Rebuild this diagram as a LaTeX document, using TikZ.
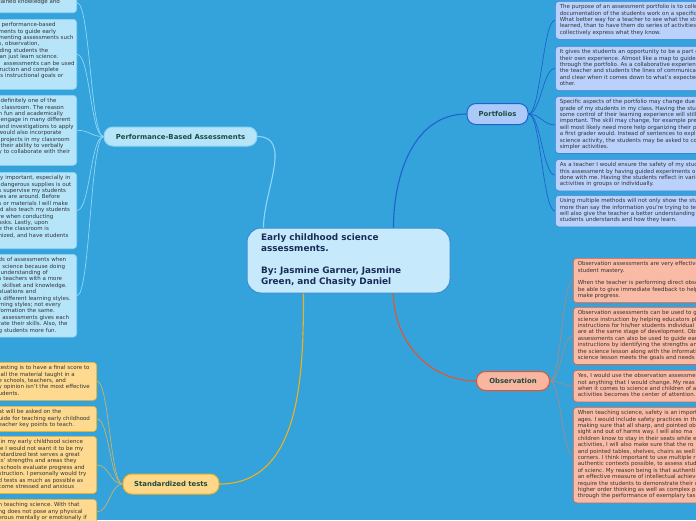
\documentclass[tikz,border=0pt]{standalone}
\usepackage{fontspec}
\setmainfont{DejaVu Sans}
\usetikzlibrary{calc}
\frenchspacing
\definecolor{bg}{HTML}{34A3DB}
\definecolor{rootfill}{HTML}{C6EAFC}
\definecolor{rootdraw}{HTML}{3A8DD3}
\definecolor{roottext}{HTML}{1B2B57}
\definecolor{labtext}{HTML}{1F4A3F}
\definecolor{boxtext}{HTML}{333333}
\definecolor{afill}{HTML}{B6E5FA}
\definecolor{adraw}{HTML}{8ED5F5}
\definecolor{acon}{HTML}{8ED6F6}
\definecolor{pfill}{HTML}{B9D1FB}
\definecolor{pnodefill}{HTML}{ABCAF9}
\definecolor{pdraw}{HTML}{3C82E0}
\definecolor{pcon}{HTML}{1E62CE}
\definecolor{ofill}{HTML}{F9BBA6}
\definecolor{onodefill}{HTML}{F8B5A0}
\definecolor{odraw}{HTML}{E4603A}
\definecolor{ocon}{HTML}{E4542C}
\definecolor{osub}{HTML}{A48C84}
\definecolor{sfill}{HTML}{FDDA90}
\definecolor{snodefill}{HTML}{FDD88A}
\definecolor{sdraw}{HTML}{F0B024}
\definecolor{scon}{HTML}{F2B01C}
\definecolor{ssub}{HTML}{C7B26C}
\newcommand\mylines[1]{\begin{tabular}{@{}l@{}}#1\end{tabular}}
\tikzset{
  sub/.style={draw, line width=0.6pt, rounded corners=3.5pt, inner ysep=3pt,
    font=\fontsize{5.5}{6.4}\selectfont\frenchspacing, text=boxtext, align=left},
  lbox/.style={sub, fill=afill, draw=adraw, text width=76pt, inner xsep=2pt, anchor=north east},
  sbox/.style={sub, fill=sfill, draw=sdraw, text width=96pt, inner xsep=2pt, anchor=north east},
  pbox/.style={sub, fill=pfill, draw=pdraw, text width=200pt, inner xsep=4.5pt, anchor=north west},
  obox/.style={sub, fill=ofill, draw=odraw, text width=200pt, inner xsep=4.5pt, anchor=north west},
  branch/.style={draw, line width=1pt, rounded corners=9pt, inner sep=0pt,
    font=\fontsize{6.9}{8}\selectfont\bfseries, text=labtext},
  rootbox/.style={draw=rootdraw, fill=rootfill, line width=1pt, rounded corners=14pt,
    inner xsep=14pt, inner ysep=0pt, text width=175pt, align=left,
    minimum width=203pt, minimum height=65pt,
    font=\fontsize{8.9}{11}\selectfont\bfseries\frenchspacing, text=roottext},
  maincon/.style={line width=1.1pt},
  subcon/.style={line width=0.7pt},
}
\begin{document}
\begin{tikzpicture}[x=1pt,y=-1pt]
\useasboundingbox (0,0) rectangle (696,520);
\clip (0,0) rectangle (696,520);
\fill[bg] (0,0) rectangle (696,520);

% root
\node[rootbox] (root) at (348.5,260.5) {Early childhood science\\assessments.\\ \mbox{}\\By: Jasmine Garner, Jasmine\\Green, and Chasity Daniel};

% branch nodes
\node[branch, fill=afill, draw=adraw, minimum width=153pt, minimum height=19pt] (perf) at (180.5,136.5) {Performance-Based Assessments};
\node[branch, fill=pnodefill, draw=pcon, minimum width=61pt, minimum height=21pt] (port) at (497.5,114) {Portfolios};
\node[branch, fill=onodefill, draw=ocon, minimum width=73pt, minimum height=19pt] (obs) at (513,381) {Observation};
\node[branch, fill=snodefill, draw=scon, minimum width=96pt, minimum height=20pt] (std) at (171,484) {Standardized tests};

% performance-based boxes (left)
\node[lbox, anchor=south east, minimum height=20pt] (b1) at (77,13) {\mylines{tained knowledge and}};
\node[lbox] (b2) at (77,19) {\mylines{\hspace*{3pt}performance-based\\ments to guide early\\menting assessments such\\s, observation,\\\hspace*{1pt}ding students the\\\hspace*{1pt}an just learn science.\\\hspace*{5pt}assessments can be used\\\hspace*{1pt}ruction and complete\\'s instructional goals or\\\mbox{}}};
\node[lbox] (b3) at (77,95) {\mylines{\hspace*{2pt}definitely one of the\\\hspace*{3pt}classroom. The reason\\h fun and academically\\\hspace*{2pt}engage in many different\\and investigations to apply\\would also incorporate\\\hspace*{2pt}projects in my classroom\\\hspace*{2pt}their ability to verbally\\y to collaborate with their\\\mbox{}}};
\node[lbox] (b4) at (77,172) {\mylines{ly important, especially in\\\hspace*{2pt}dangerous supplies is out\\s supervise my students\\les are around. Before\\s or materials I will make\\ld also teach my students\\re when conducting\\asks. Lastly, upon\\e the classroom is\\nized, and have students\\\mbox{}}};
\node[lbox] (b5) at (77,254) {\mylines{ds of assessments when\\' science because doing\\\hspace*{2pt}understanding of\\s teachers with a more\\' skillset and knowledge.\\aluations and\\s different learning styles.\\rning styles; not every\\formation the same.\\' assessments gives each\\rate their skills. Also, the\\g students more fun.}};

% standardized boxes (left)
\node[sbox] (s1) at (97,362) {\mylines{testing is to have a final score to\\\hspace*{2pt}all the material taught in a\\e schools, teachers, and\\y opinion isn't the most effective\\udents.}};
\node[sbox] (s2) at (97,406) {\mylines{at will be asked on the\\uide for teaching early childhood\\eacher key points to teach.}};
\node[sbox] (s3) at (97,436) {\mylines{\hspace*{2pt}in my early childhood science\\le I would not want it to be my\\ndardized test serves a great\\ts' strengths and areas they\\\hspace*{2pt}schools evaluate progress and\\struction. I personally would try\\d tests as much as possible as\\come stressed and anxious}};
\node[sbox] (s4) at (97,499) {\mylines{n teaching science. With that\\ng does not pose any physical\\erous mentally or emotionally if}};

% portfolio boxes (right)
\node[pbox] (p1) at (555,1) {\mylines{The purpose of an assessment portfolio is to colle\\documentation of the students work on a specific\\What better way for a teacher to see what the stu\\learned, than to have them do series of activities\\collectively express what they know.}};
\node[pbox] (p2) at (555,46) {\mylines{It gives the students an opportunity to be a part o\\their own experience. Almost like a map to guide\\through the portfolio. As a collaborative experien\\the teacher and students the lines of communicati\\and clear when it comes down to what's expected\\other.}};
\node[pbox] (p3) at (555,96) {\mylines{Specific aspects of the portfolio may change due t\\grade of my students in my class. Having the stud\\some control of their learning experience will still\\important. The skill may change, for example pre\\will most likely need more help organizing their p\\a first grader would. Instead of sentences to expl\\science activity, the students may be asked to col\\simpler activities.}};
\node[pbox] (p4) at (555,159) {\mylines{As a teacher I would ensure the safety of my stud\\this assessment by having guided experiments or\\done with me. Having the students reflect in varie\\activities in groups or individually.}};
\node[pbox] (p5) at (555,195) {\mylines{Using multiple methods will not only show the stu\\more than say the information you're trying to te\\will also give the teacher a better understanding o\\students understands and how they learn.}};

% observation boxes (right)
\node[obox] (o1) at (573,258) {\mylines{Observation assessments are very effective\\student mastery.\\ \mbox{}\\When the teacher is performing direct obse\\be able to give immediate feedback to help\\make progress.}};
\node[obox] (o2) at (573,307) {\mylines{Observation assessments can be used to g\\science instruction by helping educators pl\\instructions for his/her students individual\\are at the same stage of development. Obs\\assessments can also be used to guide ear\\instructions by identifying the strengths an\\the science lesson along with the informati\\science lesson meets the goals and needs}};
\node[obox] (o3) at (573,370) {\mylines{Yes, I would use the observation assessme\\not anything that I would change. My reas\\when it comes to science and children of a\\activities becomes the center of attention.}};
\node[obox] (o4) at (573,407) {\mylines{When teaching science, safety is an import\\ages. I would include safety practices in th\\making sure that all sharp, and pointed ob\\sight and out of harms way. I will also ma\\children know to stay in their seats while e\\activities, I will also make sure that the ro\\and pointed tables, shelves, chairs as well\\corners. I think important to use multiple r\\authentic contexts possible, to assess stud\\of scienc. My reason being is that authenti\\an effective measure of intellectual achieve\\require the students to demonstrate their c\\higher order thinking as well as complex pr\\through the performance of exemplary tas}};

% main connectors
\draw[maincon, pcon] ([xshift=45pt]root.north) to[out=90,in=180] (port.west);
\draw[maincon, acon] ([xshift=-85pt]root.north) to[out=90,in=0] (perf.east);
\draw[maincon, ocon] ([xshift=45pt]root.south) to[out=-90,in=180] (obs.west);
\draw[maincon, scon] ([xshift=-45pt]root.south) to[out=-90,in=0] (std.east);

% sub connectors
\foreach \b in {b1,b2,b3,b4,b5}
  \draw[subcon, acon] (perf.west) to[out=180,in=0,distance=13pt] (\b.east);
\foreach \b in {p1,p2,p3,p4,p5}
  \draw[subcon, pcon] (port.east) to[out=0,in=180,distance=12pt] (\b.west);
\foreach \b in {o1,o2,o3,o4}
  \draw[subcon, osub] (obs.east) to[out=0,in=180,distance=11pt] (\b.west);
\foreach \b in {s1,s2,s3,s4}
  \draw[subcon, ssub] (std.west) to[out=180,in=0,distance=12pt] (\b.east);
\end{tikzpicture}
\end{document}
